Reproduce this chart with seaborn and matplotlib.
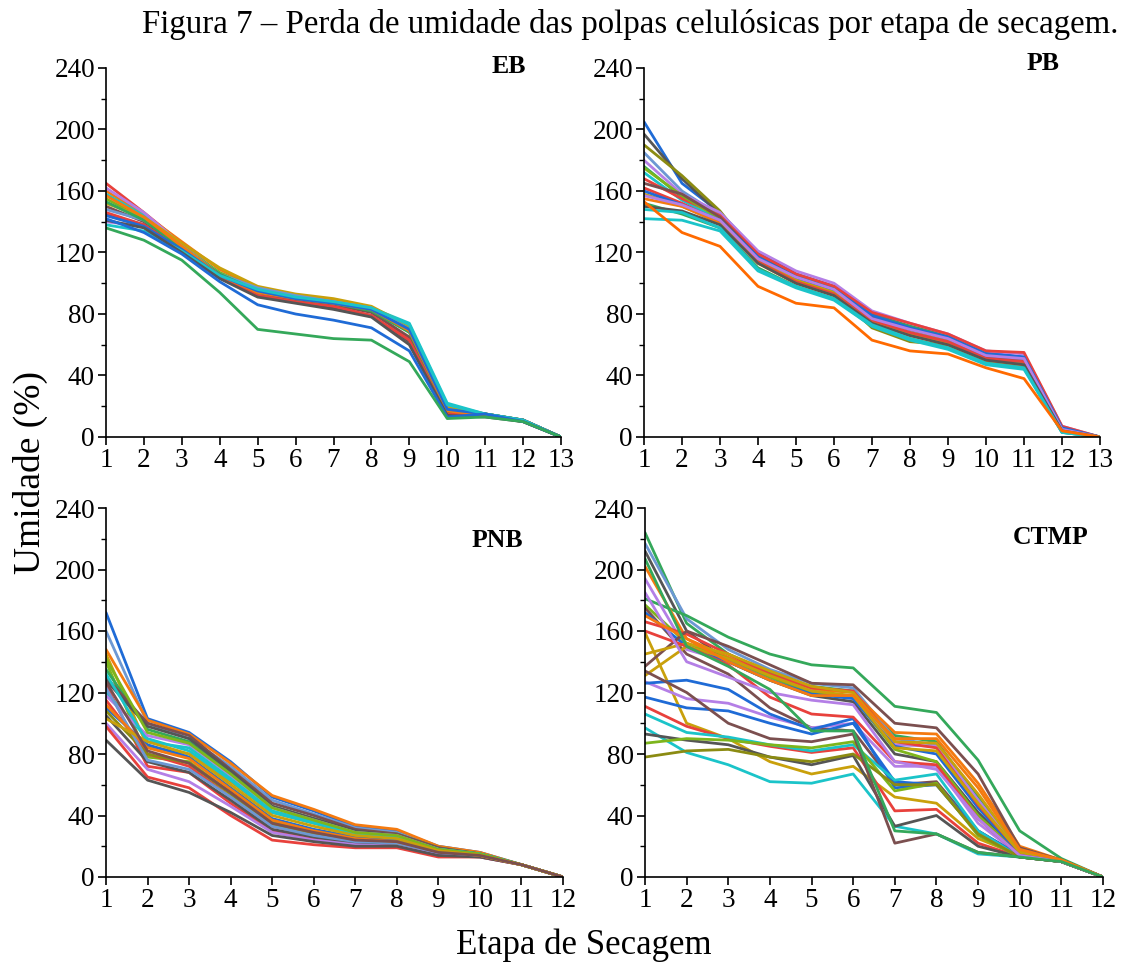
import matplotlib
matplotlib.use("Agg")
import matplotlib.pyplot as plt
import numpy as np
import pandas as pd
import seaborn as sns
from matplotlib.ticker import MultipleLocator

# ---------------- data ----------------
stages_eb = list(range(1, 14))
stages_pb = list(range(1, 14))
stages_pnb = list(range(1, 13))
stages_ctmp = list(range(1, 13))

eb_curves = [
    [165, 146, 126, 106, 94, 90, 87, 82, 64, 18, 14, 11, 0],
    [160, 145, 127, 109, 97, 92, 89, 84, 69, 20, 15, 11, 0],
    [158, 144, 125, 106, 95, 91, 88, 84, 74, 22, 15, 11, 0],
    [162, 146, 125, 106, 95, 91, 88, 84, 71, 19, 15, 11, 0],
    [140, 137, 122, 105, 96, 92, 88, 84, 70, 17, 14, 11, 0],
    [145, 138, 121, 104, 92, 88, 84, 79, 62, 14, 14, 10, 0],
    [150, 140, 123, 106, 94, 89, 86, 81, 65, 16, 14, 11, 0],
    [155, 142, 124, 107, 96, 91, 87, 83, 70, 18, 15, 11, 0],
    [152, 143, 126, 110, 98, 93, 90, 85, 72, 19, 15, 11, 0],
    [148, 141, 124, 106, 97, 92, 88, 84, 70, 18, 14, 11, 0],
    [146, 138, 122, 104, 92, 88, 85, 79, 63, 15, 14, 10, 0],
    [153, 141, 123, 106, 95, 90, 87, 82, 68, 17, 15, 11, 0],
    [157, 143, 124, 105, 94, 90, 87, 83, 69, 17, 14, 11, 0],
    [144, 137, 122, 105, 95, 90, 87, 83, 70, 18, 15, 11, 0],
    [138, 134, 121, 105, 96, 91, 88, 84, 73, 21, 15, 11, 0],
    [141, 136, 120, 103, 91, 87, 83, 78, 60, 14, 13, 10, 0],
    [142, 133, 119, 101, 86, 80, 76, 71, 56, 13, 15, 10, 0],
    [136, 128, 115, 94, 70, 67, 64, 63, 49, 12, 13, 10, 0],
]

pb_curves = [
    [205, 165, 146, 120, 106, 98, 80, 72, 66, 55, 52, 6, 0],
    [197, 168, 145, 118, 104, 96, 78, 70, 63, 52, 50, 5, 0],
    [190, 170, 147, 116, 102, 94, 71, 62, 60, 50, 46, 4, 0],
    [185, 160, 144, 117, 103, 95, 77, 70, 64, 53, 50, 5, 0],
    [180, 158, 146, 121, 108, 100, 82, 74, 67, 56, 54, 7, 0],
    [176, 156, 143, 118, 105, 97, 79, 72, 65, 54, 51, 6, 0],
    [172, 154, 141, 114, 101, 93, 76, 68, 62, 50, 48, 4, 0],
    [168, 155, 144, 119, 106, 98, 81, 74, 67, 56, 55, 7, 0],
    [175, 157, 142, 116, 103, 95, 77, 70, 63, 52, 49, 5, 0],
    [165, 158, 143, 117, 104, 96, 78, 70, 64, 52, 50, 5, 0],
    [158, 150, 140, 115, 102, 94, 75, 67, 61, 50, 47, 4, 0],
    [162, 152, 140, 114, 101, 93, 76, 68, 62, 51, 49, 5, 0],
    [160, 151, 141, 117, 104, 96, 79, 71, 65, 54, 52, 6, 0],
    [155, 150, 139, 113, 100, 92, 74, 66, 60, 49, 46, 4, 0],
    [152, 145, 136, 110, 98, 90, 72, 64, 58, 48, 45, 3, 0],
    [142, 141, 134, 108, 97, 89, 72, 63, 57, 47, 44, 3, 0],
    [157, 151, 141, 116, 104, 96, 77, 70, 64, 53, 51, 5, 0],
    [150, 147, 138, 113, 100, 92, 74, 66, 60, 50, 47, 4, 0],
    [148, 146, 136, 109, 98, 90, 73, 64, 58, 48, 45, 3, 0],
    [153, 133, 124, 98, 87, 84, 63, 56, 54, 45, 38, 4, 0],
]

pnb_curves = [
    [172, 103, 94, 75, 52, 43, 33, 30, 20, 16, 8, 0],
    [160, 100, 90, 72, 50, 41, 32, 29, 19, 15, 8, 0],
    [148, 102, 93, 74, 53, 44, 34, 31, 20, 16, 8, 0],
    [145, 85, 80, 62, 42, 35, 28, 26, 18, 15, 8, 0],
    [140, 78, 75, 55, 36, 30, 25, 23, 17, 14, 8, 0],
    [135, 96, 88, 68, 46, 38, 30, 28, 19, 15, 8, 0],
    [130, 100, 92, 70, 48, 40, 31, 28, 19, 15, 8, 0],
    [128, 98, 90, 69, 46, 38, 30, 27, 18, 15, 8, 0],
    [125, 72, 68, 48, 30, 25, 22, 21, 15, 14, 8, 0],
    [120, 90, 82, 63, 42, 35, 28, 26, 18, 15, 8, 0],
    [118, 92, 86, 66, 45, 37, 29, 27, 18, 14, 8, 0],
    [115, 80, 72, 52, 33, 27, 23, 22, 16, 14, 8, 0],
    [110, 86, 78, 58, 38, 31, 26, 24, 17, 14, 8, 0],
    [105, 75, 68, 50, 31, 26, 22, 21, 15, 14, 8, 0],
    [108, 80, 74, 54, 34, 28, 24, 22, 16, 14, 8, 0],
    [100, 70, 62, 46, 29, 24, 21, 20, 15, 13, 8, 0],
    [98, 65, 58, 40, 24, 21, 19, 19, 13, 13, 8, 0],
    [89, 63, 55, 42, 27, 23, 20, 20, 14, 13, 8, 0],
    [123, 76, 70, 52, 33, 27, 23, 22, 16, 14, 8, 0],
    [132, 88, 84, 64, 43, 36, 28, 26, 18, 15, 8, 0],
    [142, 94, 87, 67, 45, 37, 29, 27, 18, 15, 8, 0],
    [112, 84, 77, 57, 37, 30, 25, 23, 17, 14, 8, 0],
    [103, 88, 80, 60, 40, 33, 27, 25, 17, 14, 8, 0],
    [127, 82, 74, 55, 35, 29, 24, 23, 16, 14, 8, 0],
]

ctmp_curves = [
    [224, 165, 145, 133, 124, 121, 92, 88, 52, 17, 11, 0],
    [217, 168, 148, 135, 126, 123, 90, 86, 50, 16, 11, 0],
    [212, 160, 140, 128, 118, 114, 80, 75, 42, 15, 10, 0],
    [181, 170, 156, 145, 138, 136, 111, 107, 76, 30, 12, 0],
    [202, 155, 143, 131, 122, 120, 94, 93, 61, 20, 11, 0],
    [194, 148, 140, 130, 121, 117, 86, 85, 50, 16, 10, 0],
    [177, 152, 142, 130, 120, 117, 83, 75, 40, 15, 10, 0],
    [175, 145, 132, 110, 97, 95, 60, 62, 30, 14, 10, 0],
    [172, 150, 140, 128, 119, 116, 85, 80, 45, 15, 10, 0],
    [166, 158, 145, 132, 123, 121, 88, 84, 47, 16, 11, 0],
    [159, 100, 90, 75, 67, 72, 52, 48, 25, 14, 10, 0],
    [137, 160, 150, 138, 126, 125, 100, 97, 67, 19, 11, 0],
    [145, 152, 145, 134, 124, 120, 88, 87, 54, 17, 11, 0],
    [131, 150, 142, 131, 121, 118, 84, 82, 48, 16, 10, 0],
    [127, 116, 113, 104, 97, 100, 72, 72, 35, 14, 10, 0],
    [126, 128, 122, 106, 96, 103, 58, 60, 30, 14, 10, 0],
    [117, 110, 108, 100, 93, 100, 62, 60, 28, 13, 10, 0],
    [111, 98, 90, 85, 81, 84, 43, 44, 22, 13, 10, 0],
    [106, 94, 91, 86, 82, 86, 63, 67, 30, 13, 10, 0],
    [97, 81, 73, 62, 61, 67, 33, 28, 15, 13, 10, 0],
    [93, 89, 86, 78, 73, 79, 33, 40, 20, 13, 10, 0],
    [87, 90, 89, 86, 84, 88, 56, 61, 27, 13, 10, 0],
    [78, 82, 83, 78, 75, 80, 60, 60, 28, 13, 10, 0],
    [160, 150, 138, 117, 106, 104, 75, 73, 38, 14, 10, 0],
    [134, 120, 100, 90, 88, 93, 22, 28, 16, 13, 10, 0],
    [185, 140, 130, 120, 115, 112, 75, 70, 38, 14, 10, 0],
    [170, 155, 140, 128, 118, 118, 90, 90, 58, 18, 11, 0],
    [207, 150, 137, 122, 95, 95, 30, 28, 16, 13, 10, 0],
]

panel_names = ["EB", "PB", "PNB", "CTMP"]
y_ticks = [0, 40, 80, 120, 160, 200, 240]

# ---------------- styles ----------------
RED, BLUE, GREEN, ORANGE = "#E8413C", "#1F6BD6", "#34A85A", "#F47A10"
PURPLE, CYAN, GRAY, BROWN = "#B47FE6", "#1BC4C9", "#555555", "#7B4F4F"
LIME, GOLD, STEEL, OLIVE = "#7DB51C", "#C9A00B", "#6D98D3", "#8B8B12"
DORANGE = "#FF6A00"

eb_colors = [RED, ORANGE, CYAN, PURPLE, PURPLE, GRAY, BROWN, LIME, GOLD, STEEL,
             RED, GREEN, ORANGE, BLUE, CYAN, GRAY, BLUE, GREEN]
pb_colors = [BLUE, GRAY, OLIVE, STEEL, PURPLE, GREEN, CYAN, RED, LIME, BROWN,
             GOLD, RED, BLUE, ORANGE, GREEN, CYAN, PURPLE, GRAY, CYAN, DORANGE]
pnb_colors = [BLUE, STEEL, ORANGE, GOLD, LIME, GREEN, BROWN, GRAY, RED, CYAN,
              PURPLE, RED, BLUE, GRAY, OLIVE, PURPLE, RED, GRAY, STEEL, CYAN,
              LIME, ORANGE, GOLD, BROWN]
ctmp_colors = [GREEN, STEEL, GRAY, GREEN, ORANGE, PURPLE, LIME, BROWN, BLUE, RED,
               GOLD, BROWN, GOLD, GOLD, PURPLE, BLUE, BLUE, RED, CYAN, CYAN,
               GRAY, LIME, OLIVE, RED, BROWN, PURPLE, ORANGE, GREEN]

sns.set_theme(style="ticks")
plt.rcParams["font.family"] = ["Liberation Serif", "DejaVu Serif"]
plt.rcParams["text.color"] = "black"
plt.rcParams["axes.labelcolor"] = "black"
plt.rcParams["xtick.color"] = "black"
plt.rcParams["ytick.color"] = "black"
plt.rcParams["axes.edgecolor"] = "black"

fig = plt.figure(figsize=(11.21, 9.65), dpi=100)
W, H = 1121, 965


def add_axes(left, top, right, bottom):
    return fig.add_axes([left / W, 1 - bottom / H, (right - left) / W, (bottom - top) / H])


axes = [
    add_axes(106, 68, 561, 437),
    add_axes(644, 68, 1100, 437),
    add_axes(106, 508, 563, 877),
    add_axes(645, 508, 1103, 877),
]

datasets = [
    (stages_eb, eb_curves, eb_colors, 13, (11.62, 241)),
    (stages_pb, pb_curves, pb_colors, 13, (11.5, 243)),
    (stages_pnb, pnb_curves, pnb_colors, 12, (10.41, 219)),
    (stages_ctmp, ctmp_curves, ctmp_colors, 12, (10.74, 220.5)),
]

for ax, name, (stages, curves, colors, xmax, lab) in zip(axes, panel_names, datasets):
    rows = []
    for i, vals in enumerate(curves):
        for s, v in zip(stages, vals):
            rows.append({"stage": s, "umidade": v, "curve": f"c{i:02d}"})
    df = pd.DataFrame(rows)
    pal = {f"c{i:02d}": colors[i % len(colors)] for i in range(len(curves))}
    sns.lineplot(data=df, x="stage", y="umidade", hue="curve", palette=pal,
                 legend=False, ax=ax, linewidth=2.0, estimator=None, sort=True)
    ax.set_xlim(1, xmax)
    ax.set_ylim(0, 240)
    ax.set_xticks(stages)
    ax.set_yticks(y_ticks)
    ax.yaxis.set_minor_locator(MultipleLocator(20))
    ax.tick_params(axis="both", which="major", direction="out", length=6, width=1.2,
                   labelsize=19.5, colors="black", labelcolor="black", pad=2)
    ax.tick_params(axis="y", which="minor", direction="out", length=3.5, width=1.0,
                   colors="black")
    ax.set_xlabel("")
    ax.set_ylabel("")
    for sp in ["top", "right"]:
        ax.spines[sp].set_visible(False)
    for sp in ["left", "bottom"]:
        ax.spines[sp].set_linewidth(1.2)
        ax.spines[sp].set_color("black")
    ax.text(lab[0], lab[1], name, ha="center", va="center", fontsize=18.5,
            fontweight="bold", color="black", clip_on=False)
    ax.set_facecolor("white")

fig.text(630 / W, 1 - 25 / H, "Figura 7 – Perda de umidade das polpas celulósicas por etapa de secagem.",
         ha="center", va="center", fontsize=23.7, color="black")
fig.text(30 / W, 1 - 472 / H, "Umidade (%)", rotation=90, ha="center", va="center",
         fontsize=27, color="black")
fig.text(584 / W, 1 - 945 / H, "Etapa de Secagem", ha="center", va="center",
         fontsize=25, color="black")

fig.savefig("out.png", dpi=100, facecolor="white")
